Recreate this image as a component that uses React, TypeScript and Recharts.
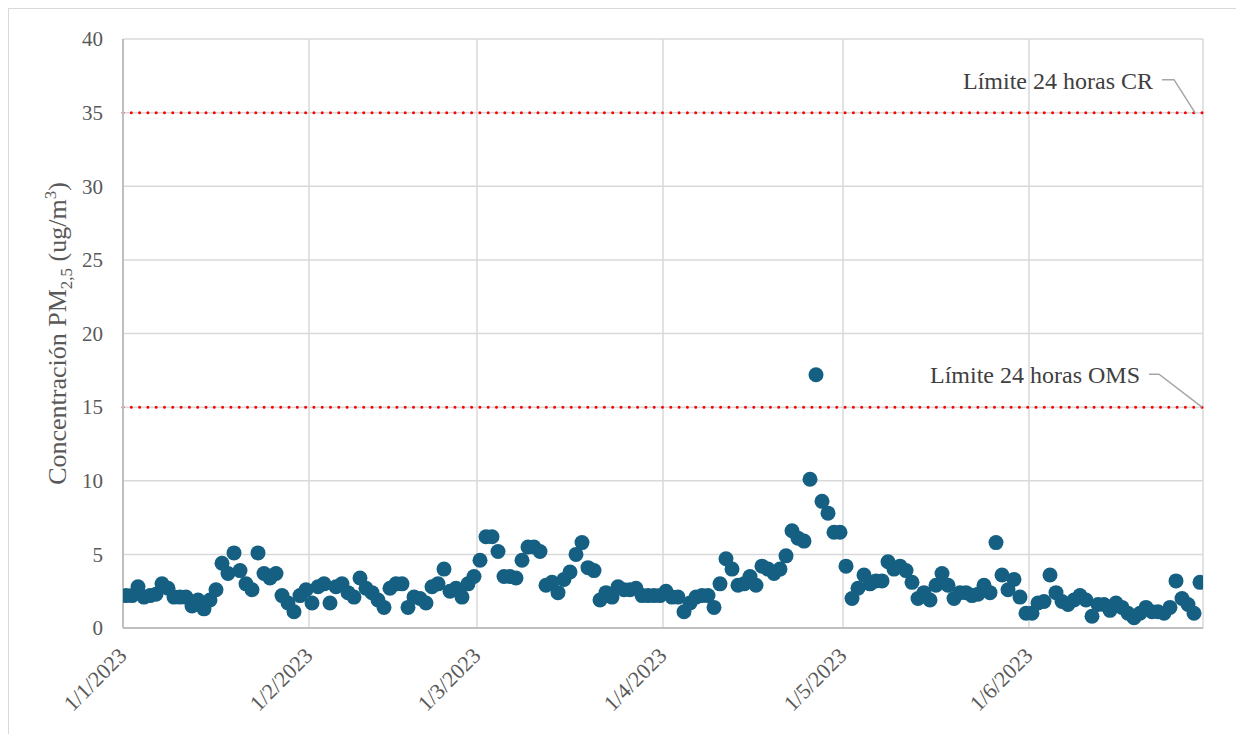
import React from 'react';
import { ScatterChart, Scatter, XAxis, YAxis, CartesianGrid, ReferenceLine } from 'recharts';

const monthTicks = [0, 31, 59, 90, 120, 151];
const monthLabels = ['1/1/2023', '1/2/2023', '1/3/2023', '1/4/2023', '1/5/2023', '1/6/2023'];
const yTicks = [0, 5, 10, 15, 20, 25, 30, 35, 40];

// Daily PM2.5 concentration (ug/m3), one value per day from 1/1/2023
const pm25 = [
  2.2, 2.2, 2.8, 2.1, 2.2, 2.3, 3.0, 2.7, 2.1, 2.1,
  2.1, 1.5, 1.9, 1.3, 1.9, 2.6, 4.4, 3.7, 5.1, 3.9,
  3.0, 2.6, 5.1, 3.7, 3.4, 3.7, 2.2, 1.7, 1.1, 2.2,
  2.6, 1.7, 2.8, 3.0, 1.7, 2.8, 3.0, 2.4, 2.1, 3.4,
  2.7, 2.4, 1.9, 1.4, 2.7, 3.0, 3.0, 1.4, 2.1, 2.0,
  1.7, 2.8, 3.0, 4.0, 2.5, 2.7, 2.1, 3.0, 3.5, 4.6,
  6.2, 6.2, 5.2, 3.5, 3.5, 3.4, 4.6, 5.5, 5.5, 5.2,
  2.9, 3.1, 2.4, 3.3, 3.8, 5.0, 5.8, 4.1, 3.9, 1.9,
  2.4, 2.1, 2.8, 2.6, 2.6, 2.7, 2.2, 2.2, 2.2, 2.2,
  2.5, 2.1, 2.1, 1.1, 1.7, 2.1, 2.2, 2.2, 1.4, 3.0,
  4.7, 4.0, 2.9, 3.0, 3.5, 2.9, 4.2, 4.0, 3.7, 4.0,
  4.9, 6.6, 6.1, 5.9, 10.1, 17.2, 8.6, 7.8, 6.5, 6.5,
  4.2, 2.0, 2.7, 3.6, 3.0, 3.2, 3.2, 4.5, 4.0, 4.2,
  3.9, 3.1, 2.0, 2.4, 1.9, 2.9, 3.7, 2.9, 2.0, 2.4,
  2.4, 2.2, 2.3, 2.9, 2.4, 5.8, 3.6, 2.6, 3.3, 2.1,
  1.0, 1.0, 1.7, 1.8, 3.6, 2.4, 1.8, 1.6, 1.9, 2.2,
  1.9, 0.8, 1.6, 1.6, 1.2, 1.7, 1.4, 1.0, 0.7, 1.0,
  1.4, 1.1, 1.1, 1.0, 1.4, 3.2, 2.0, 1.6, 1.0, 3.1,
];

const limitValues = [35, 15];
const limitLabels = ['Límite 24 horas CR', 'Límite 24 horas OMS'];

// each daily value is placed at the middle of its day
const data = pm25.map((v, i) => ({ day: i + 0.5, value: v }));

const FONT = '"Liberation Serif", "Times New Roman", serif';
const TEXT = '#595959';

const YTick = (props: any) => {
  const { x, y, payload } = props;
  return (
    <text x={x} y={y} dy="0.35em" textAnchor="end" fontFamily={FONT} fontSize={21} fill={TEXT}>
      {payload.value}
    </text>
  );
};

const XTick = (props: any) => {
  const { x, y, payload } = props;
  const idx = monthTicks.indexOf(payload.value);
  const ax = x + 5;
  const ay = y + 21;
  return (
    <text x={ax} y={ay} textAnchor="end" transform={`rotate(-45, ${ax}, ${ay})`} fontFamily={FONT} fontSize={22} fill={TEXT}>
      {idx >= 0 ? monthLabels[idx] : ''}
    </text>
  );
};

const YLabel = (props: any) => {
  const vb = props.viewBox || { x: 0, y: 0, width: 0, height: 0 };
  const cx = vb.x + 57;
  const cy = vb.y + vb.height / 2;
  return (
    <text x={cx} y={cy} textAnchor="middle" transform={`rotate(-90, ${cx}, ${cy})`} fontFamily={FONT} fontSize={26} fill={TEXT}>
      <tspan>Concentración PM</tspan>
      <tspan dy={6} fontSize={17}>2,5</tspan>
      <tspan dy={-6}> (ug/m</tspan>
      <tspan dy={-10} fontSize={17}>3</tspan>
      <tspan dy={10}>)</tspan>
    </text>
  );
};

const makeLimitLabel = (text: string, textEnd: number, lead: number[][]) => (props: any) => {
  const vb = props.viewBox || { x: 0, y: 0, width: 0 };
  const ex = vb.x + vb.width;
  const ly = vb.y;
  const pts = lead.map(([dx, dy]) => `${ex + dx},${ly + dy}`).join(' ');
  return (
    <g>
      <text x={ex + textEnd} y={ly - 24} textAnchor="end" fontFamily={FONT} fontSize={24} fill="#404040">
        {text}
      </text>
      <polyline points={pts} fill="none" stroke="#a6a6a6" strokeWidth={1.5} />
    </g>
  );
};

const limitLabelRenderers = [
  makeLimitLabel(limitLabels[0], -50, [[-41, -33], [-29, -33], [-8, 0]]),
  makeLimitLabel(limitLabels[1], -63, [[-54, -33], [-44, -33], [-1, 0]]),
];

const Dot = (props: any) => {
  const { cx, cy } = props;
  if (cx == null || cy == null) return null;
  return <circle cx={cx} cy={cy} r={7.5} fill="#156082" />;
};

export default function App() {
  return (
    <div
      style={{
        width: 1230,
        height: 726,
        boxSizing: 'border-box',
        borderTop: '1px solid #d9d9d9',
        borderLeft: '1px solid #d9d9d9',
        borderRight: '1px solid #d9d9d9',
        overflow: 'hidden',
        background: '#fff',
      }}
    >
      <ScatterChart width={1228} height={724} margin={{ top: 30, right: 34, bottom: 0, left: 0 }}>
        <CartesianGrid stroke="#d9d9d9" strokeWidth={1.5} />
        <XAxis
          type="number"
          dataKey="day"
          domain={[0, 180]}
          ticks={monthTicks}
          interval={0}
          height={105}
          tick={<XTick />}
          tickLine={false}
          axisLine={{ stroke: '#bfbfbf', strokeWidth: 2 }}
          allowDataOverflow
        />
        <YAxis
          type="number"
          dataKey="value"
          domain={[0, 40]}
          ticks={yTicks}
          interval={0}
          width={114}
          tickSize={6}
          tickMargin={14}
          tick={<YTick />}
          tickLine={false}
          axisLine={{ stroke: '#bfbfbf', strokeWidth: 2 }}
          label={{ content: <YLabel /> }}
        />
        {limitValues.map((v, i) => (
          <ReferenceLine
            key={v}
            y={v}
            stroke="#ff0000"
            strokeWidth={3}
            strokeDasharray="0 8.3"
            strokeLinecap="round"
            label={limitLabelRenderers[i]}
          />
        ))}
        <Scatter data={data} shape={<Dot />} isAnimationActive={false} />
      </ScatterChart>
    </div>
  );
}
